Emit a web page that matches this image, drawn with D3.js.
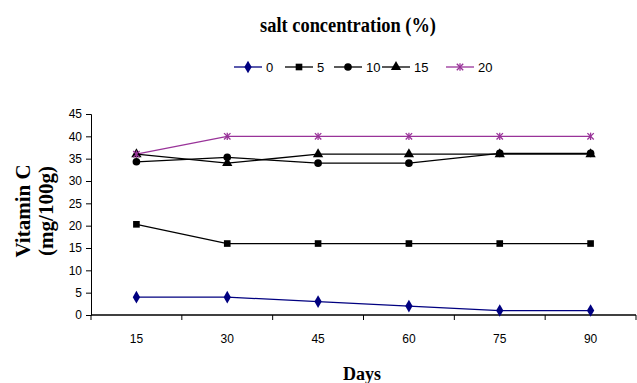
<!DOCTYPE html>
<html>
<head>
<meta charset="utf-8">
<script src="https://cdn.jsdelivr.net/npm/d3@7"></script>
<style>
  html, body { margin: 0; padding: 0; background: #fff; }
  svg { display: block; }
</style>
</head>
<body>
<svg id="chart" width="637" height="383"></svg>
<script>
// Storage days (x categories)
const days = ["15", "30", "45", "60", "75", "90"];
// Salt concentration levels (%) — one series each
const seriesNames = ["0", "5", "10", "15", "20"];
// Vitamin C content (mg/100g) for each salt level
const salt0  = [4, 4, 3, 2, 1, 1];
const salt5  = [20.3, 16, 16, 16, 16, 16];
const salt10 = [34.3, 35.3, 34, 34, 36.2, 36.2];
const salt15 = [36, 34, 36, 36, 36, 36];
const salt20 = [36, 40, 40, 40, 40, 40];
const yTicks = [0, 5, 10, 15, 20, 25, 30, 35, 40, 45];

const series = [
  { name: seriesNames[0], values: salt0,  color: "#000080", marker: "diamond" },
  { name: seriesNames[1], values: salt5,  color: "#000000", marker: "square" },
  { name: seriesNames[2], values: salt10, color: "#000000", marker: "circle" },
  { name: seriesNames[3], values: salt15, color: "#000000", marker: "triangle" },
  { name: seriesNames[4], values: salt20, color: "#993399", marker: "star" }
];

const svg = d3.select("#chart");
const plot = { left: 91, right: 636, top: 114, bottom: 315 };

const x = d3.scaleBand().domain(days).range([plot.left, plot.right]).padding(0);
const y = d3.scaleLinear().domain([0, 45]).range([plot.bottom, plot.top]);
const cx = d => x(d) + x.bandwidth() / 2;

// Axes
const yAxis = d3.axisLeft(y).tickValues(yTicks).tickSize(5).tickPadding(4);
const gy = svg.append("g").attr("transform", `translate(${plot.left},0)`).call(yAxis);
gy.select(".domain").attr("stroke", "#000").attr("stroke-width", 1);

// x axis: ticks sit on category boundaries, labels in band centres
const gx = svg.append("g").attr("transform", `translate(0,${plot.bottom})`);
gx.append("line").attr("x1", plot.left).attr("x2", plot.right)
  .attr("stroke", "#000").attr("stroke-width", 1.3);
const bounds = days.map(d => x(d)).concat([plot.right]);
gx.selectAll("line.tk").data(bounds).join("line").attr("class", "tk")
  .attr("x1", d => d).attr("x2", d => d).attr("y1", 0).attr("y2", 5)
  .attr("stroke", "#000");
gx.selectAll("text").data(days).join("text")
  .attr("x", d => cx(d)).attr("y", 28)
  .attr("text-anchor", "middle")
  .style("font-family", "Liberation Sans, Arial, sans-serif")
  .style("font-size", "12px").text(d => d);

gy.selectAll(".tick text")
  .style("font-family", "Liberation Sans, Arial, sans-serif")
  .style("font-size", "12px").attr("fill", "#000");
gy.selectAll(".tick line").attr("stroke", "#000");

// Marker shapes
const symbolFor = {
  diamond: d3.symbol().type(d3.symbolDiamond).size(46),
  square: d3.symbol().type(d3.symbolSquare).size(44),
  circle: d3.symbol().type(d3.symbolCircle).size(46),
  triangle: d3.symbol().type(d3.symbolTriangle).size(46)
};
function drawMarker(g, s, px, py) {
  if (s.marker === "star") {
    const r = 3.2;
    const m = g.append("g").attr("transform", `translate(${px},${py})`)
      .attr("stroke", s.color).attr("stroke-width", 1.3);
    m.append("line").attr("x1", -r).attr("y1", -r).attr("x2", r).attr("y2", r);
    m.append("line").attr("x1", -r).attr("y1", r).attr("x2", r).attr("y2", -r);
    m.append("line").attr("x1", 0).attr("y1", -r - 0.5).attr("x2", 0).attr("y2", r + 0.5);
  } else {
    g.append("path").attr("d", symbolFor[s.marker]())
      .attr("transform", `translate(${px},${py})`)
      .attr("fill", s.color);
  }
}

const line = d3.line().x((d, i) => cx(days[i])).y(d => y(d));
const gLines = svg.append("g");
series.forEach(s => {
  gLines.append("path").datum(s.values).attr("d", line)
    .attr("fill", "none").attr("stroke", s.color).attr("stroke-width", 1.3);
});
series.forEach(s => {
  const g = svg.append("g");
  s.values.forEach((v, i) => drawMarker(g, s, cx(days[i]), y(v)));
});

// Title
svg.append("text").attr("x", 348).attr("y", 32).attr("text-anchor", "middle")
  .attr("textLength", 176).attr("lengthAdjust", "spacingAndGlyphs")
  .style("font-family", "Liberation Serif, Times New Roman, serif")
  .style("font-weight", "bold").style("font-size", "20px")
  .text("salt concentration (%)");

// Legend
const legendX = [234, 285, 334, 382, 446];
const legendY = 67;
series.forEach((s, i) => {
  const g = svg.append("g").attr("transform", `translate(${legendX[i]},${legendY})`);
  g.append("line").attr("x1", 0).attr("x2", 28).attr("stroke", s.color).attr("stroke-width", 1.3);
  drawMarker(g, s, 14, 0);
  g.append("text").attr("x", 32).attr("y", 5)
    .style("font-family", "Liberation Sans, Arial, sans-serif")
    .style("font-size", "13px").text(s.name);
});

// Axis titles
const yl = svg.append("text")
  .attr("transform", "translate(0,211) rotate(-90)")
  .attr("text-anchor", "middle")
  .style("font-family", "Liberation Serif, Times New Roman, serif")
  .style("font-weight", "bold").style("font-size", "21px");
yl.append("tspan").attr("x", 0).attr("y", 30).text("Vitamin C");
yl.append("tspan").attr("x", 0).attr("y", 53).text("(mg/100g)");

svg.append("text").attr("x", 362).attr("y", 380).attr("text-anchor", "middle")
  .style("font-family", "Liberation Serif, Times New Roman, serif")
  .style("font-weight", "bold").style("font-size", "18px")
  .text("Days");
</script>
</body>
</html>
